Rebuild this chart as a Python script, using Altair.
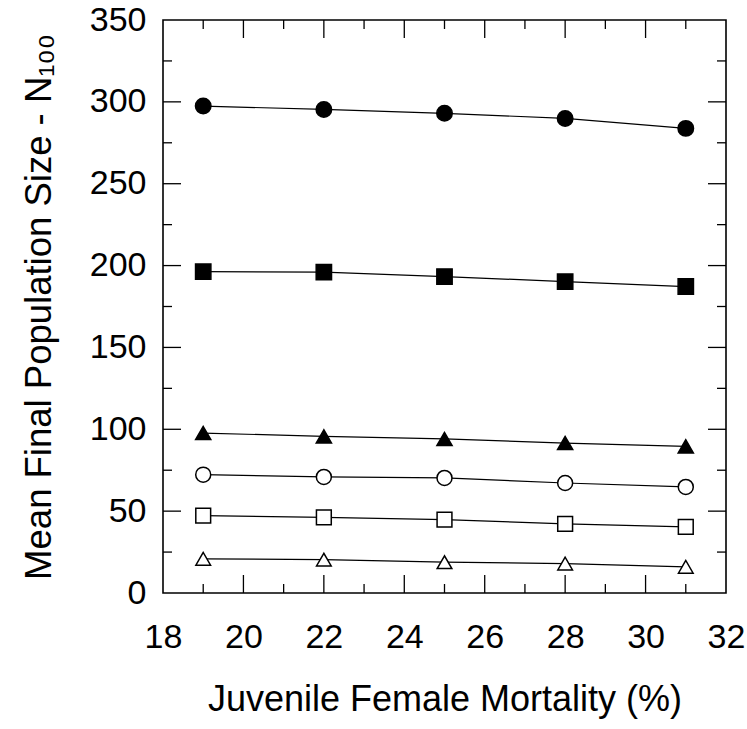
import altair as alt
import pandas as pd

# ---- data ----
mortality = [19, 22, 25, 28, 31]
series_names = ["filled circle", "filled square", "filled triangle",
                "open circle", "open square", "open triangle"]
filled_circle = [297.4, 295.4, 293.0, 289.9, 283.8]
filled_square = [196.3, 196.0, 193.3, 190.2, 187.2]
filled_triangle = [97.7, 95.7, 94.1, 91.6, 89.6]
open_circle = [72.3, 70.9, 70.3, 67.2, 64.8]
open_square = [47.3, 46.2, 44.8, 42.2, 40.4]
open_triangle = [20.9, 20.4, 18.8, 18.0, 16.0]

x_tick_labels = [18, 20, 22, 24, 26, 28, 30, 32]
y_tick_labels = [0, 50, 100, 150, 200, 250, 300, 350]
x_major = [20, 22, 24, 26, 28, 30]
x_minor = [19, 21, 23, 25, 27, 29, 31]
y_major = [50, 100, 150, 200, 250, 300]
y_minor = [25, 75, 125, 175, 225, 275, 325]

all_series = [filled_circle, filled_square, filled_triangle,
              open_circle, open_square, open_triangle]
rows = []
for name, vals in zip(series_names, all_series):
    for xv, yv in zip(mortality, vals):
        rows.append({"series": name, "x": xv, "y": yv})
df = pd.DataFrame(rows)

W, H = 563, 573
FONT = "Liberation Sans"
MAJ, MIN = 18, 9

xscale = alt.Scale(domain=[18, 32], nice=False, zero=False)
yscale = alt.Scale(domain=[0, 350], nice=False, zero=False)

xaxis = alt.Axis(values=x_tick_labels, title="Juvenile Female Mortality (%)",
                 grid=False, ticks=False, tickSize=0, domain=False,
                 labelFont=FONT, labelFontSize=34, labelColor="black",
                 labelPadding=27, labelFlush=False, labelOverlap=False,
                 titleFont=FONT, titleFontSize=36, titleFontWeight="normal",
                 titleColor="black", titleBaseline="alphabetic", titleY=117)
yaxis = alt.Axis(values=y_tick_labels, title="Mean Final Population Size - N₁₀₀",
                 grid=False, ticks=False, tickSize=0, domain=False,
                 labelFont=FONT, labelFontSize=34, labelColor="black",
                 labelPadding=17, labelFlush=False, labelOverlap=False,
                 titleFont=FONT, titleFontSize=36.5, titleFontWeight="normal",
                 titleColor="black", titleBaseline="alphabetic", titleX=-113,
                 titleAngle=270)

X = alt.X("x:Q", scale=xscale, axis=xaxis)
Y = alt.Y("y:Q", scale=yscale, axis=yaxis)

lines = alt.Chart(df).mark_line(color="black", strokeWidth=1.2).encode(
    x=X, y=Y, detail="series:N")

shapes = ["circle", "square", "triangle-up", "circle", "square", "triangle-up"]
fills = ["black", "black", "black", "white", "white", "white"]
sizes = [240, 215, 270, 220, 220, 270]

points = alt.Chart(df).mark_point(filled=True, stroke="black", strokeWidth=1.5,
                                  opacity=1).encode(
    x=X, y=Y,
    shape=alt.Shape("series:N", scale=alt.Scale(domain=series_names, range=shapes), legend=None),
    fill=alt.Fill("series:N", scale=alt.Scale(domain=series_names, range=fills), legend=None),
    size=alt.Size("series:N", scale=alt.Scale(domain=series_names, range=sizes), legend=None),
)

def xticks(vals, length):
    d = pd.DataFrame({"x": vals})
    bottom = alt.Chart(d).mark_rule(color="black", strokeWidth=1.3).encode(
        x=X, y=alt.value(H), y2=alt.value(H - length))
    top = alt.Chart(d).mark_rule(color="black", strokeWidth=1.3).encode(
        x=X, y=alt.value(0), y2=alt.value(length))
    return [bottom, top]

def yticks(vals, length):
    d = pd.DataFrame({"y": vals})
    left = alt.Chart(d).mark_rule(color="black", strokeWidth=1.3).encode(
        y=Y, x=alt.value(0), x2=alt.value(length))
    right = alt.Chart(d).mark_rule(color="black", strokeWidth=1.3).encode(
        y=Y, x=alt.value(W), x2=alt.value(W - length))
    return [left, right]

tick_layers = xticks(x_major, MAJ) + xticks(x_minor, MIN) + yticks(y_major, MAJ) + yticks(y_minor, MIN)

chart = alt.layer(*tick_layers, lines, points).properties(
    width=W, height=H,
    autosize=alt.AutoSizeParams(type="none"),
    padding={"left": 163, "top": 20, "right": 21, "bottom": 136},
    background="white",
).configure_view(stroke="black", strokeWidth=1.6)

chart.save("out.html", embed_options={"renderer": "svg", "actions": False})
